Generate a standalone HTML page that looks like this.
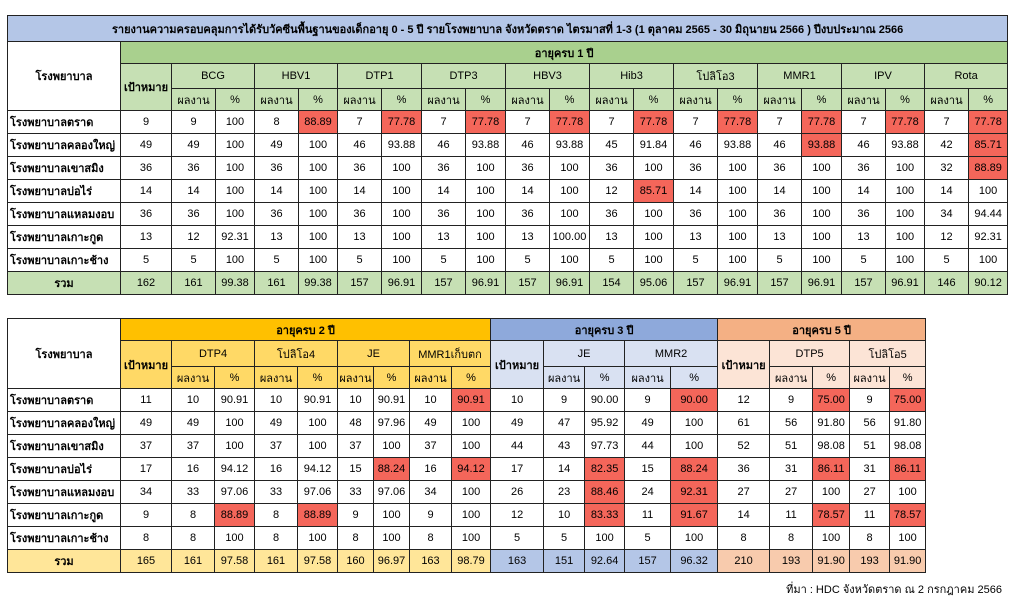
<!DOCTYPE html>
<html><head><meta charset="utf-8">
<style>
body{margin:0;background:#fff;width:1018px;height:602px;position:relative;overflow:hidden;font-family:"Liberation Sans","Noto Sans CJK SC",sans-serif;font-size:11px;color:#000}
table{position:absolute;border-collapse:collapse;table-layout:fixed}
td{border:1px solid #222;text-align:center;padding:0;white-space:nowrap;overflow:hidden}
td.h{text-align:left;padding-left:2px;font-weight:bold}
.b{font-weight:bold}
.r{background:#f4665a}
.g1{background:#a9d08e}.g2{background:#c6e0b4}
.t{background:#b4c6e7;font-weight:bold}
.y1{background:#ffc000}.y2{background:#ffd966}.y3{background:#ffe699}
.u1{background:#8ea9db}.u2{background:#d9e1f2}.u3{background:#b4c6e7}
.o1{background:#f4b084}.o2{background:#fce4d6}.o3{background:#f8cbad}
#t1 tr.d{height:23px}
#t2 tr.d{height:23px}
</style></head><body>
<table id="t1" style="left:7px;top:15px;width:1000px">
<colgroup><col style="width:113px"><col style="width:51px">
<col style="width:44px"><col style="width:39px"><col style="width:44px"><col style="width:39px"><col style="width:44px"><col style="width:40px"><col style="width:44px"><col style="width:40px"><col style="width:44px"><col style="width:40px"><col style="width:44px"><col style="width:40px"><col style="width:44px"><col style="width:40px"><col style="width:44px"><col style="width:40px"><col style="width:44px"><col style="width:39px"><col style="width:44px"><col style="width:39px"></colgroup>
<tr style="height:26px"><td colspan="22" class="t">รายงานความครอบคลุมการได้รับวัคซีนพื้นฐานของเด็กอายุ  0 - 5 ปี รายโรงพยาบาล จังหวัดตราด ไตรมาสที่ 1-3 (1 ตุลาคม 2565 - 30 มิถุนายน 2566 ) ปีงบประมาณ 2566</td></tr>
<tr style="height:22px"><td rowspan="3" class="b">โรงพยาบาล</td><td colspan="21" class="g1 b">อายุครบ 1 ปี</td></tr>
<tr style="height:25px"><td rowspan="2" class="g2 b">เป้าหมาย</td><td colspan="2" class="g2">BCG</td><td colspan="2" class="g2">HBV1</td><td colspan="2" class="g2">DTP1</td><td colspan="2" class="g2">DTP3</td><td colspan="2" class="g2">HBV3</td><td colspan="2" class="g2">Hib3</td><td colspan="2" class="g2">โปลิโอ3</td><td colspan="2" class="g2">MMR1</td><td colspan="2" class="g2">IPV</td><td colspan="2" class="g2">Rota</td></tr>
<tr style="height:22px" class="g2"><td>ผลงาน</td><td>%</td><td>ผลงาน</td><td>%</td><td>ผลงาน</td><td>%</td><td>ผลงาน</td><td>%</td><td>ผลงาน</td><td>%</td><td>ผลงาน</td><td>%</td><td>ผลงาน</td><td>%</td><td>ผลงาน</td><td>%</td><td>ผลงาน</td><td>%</td><td>ผลงาน</td><td>%</td></tr>
<tr class="d"><td class="h">โรงพยาบาลตราด</td><td>9</td><td>9</td><td>100</td><td>8</td><td class="r">88.89</td><td>7</td><td class="r">77.78</td><td>7</td><td class="r">77.78</td><td>7</td><td class="r">77.78</td><td>7</td><td class="r">77.78</td><td>7</td><td class="r">77.78</td><td>7</td><td class="r">77.78</td><td>7</td><td class="r">77.78</td><td>7</td><td class="r">77.78</td></tr>
<tr class="d"><td class="h">โรงพยาบาลคลองใหญ่</td><td>49</td><td>49</td><td>100</td><td>49</td><td>100</td><td>46</td><td>93.88</td><td>46</td><td>93.88</td><td>46</td><td>93.88</td><td>45</td><td>91.84</td><td>46</td><td>93.88</td><td>46</td><td class="r">93.88</td><td>46</td><td>93.88</td><td>42</td><td class="r">85.71</td></tr>
<tr class="d"><td class="h">โรงพยาบาลเขาสมิง</td><td>36</td><td>36</td><td>100</td><td>36</td><td>100</td><td>36</td><td>100</td><td>36</td><td>100</td><td>36</td><td>100</td><td>36</td><td>100</td><td>36</td><td>100</td><td>36</td><td>100</td><td>36</td><td>100</td><td>32</td><td class="r">88.89</td></tr>
<tr class="d"><td class="h">โรงพยาบาลบ่อไร่</td><td>14</td><td>14</td><td>100</td><td>14</td><td>100</td><td>14</td><td>100</td><td>14</td><td>100</td><td>14</td><td>100</td><td>12</td><td class="r">85.71</td><td>14</td><td>100</td><td>14</td><td>100</td><td>14</td><td>100</td><td>14</td><td>100</td></tr>
<tr class="d"><td class="h">โรงพยาบาลแหลมงอบ</td><td>36</td><td>36</td><td>100</td><td>36</td><td>100</td><td>36</td><td>100</td><td>36</td><td>100</td><td>36</td><td>100</td><td>36</td><td>100</td><td>36</td><td>100</td><td>36</td><td>100</td><td>36</td><td>100</td><td>34</td><td>94.44</td></tr>
<tr class="d"><td class="h">โรงพยาบาลเกาะกูด</td><td>13</td><td>12</td><td>92.31</td><td>13</td><td>100</td><td>13</td><td>100</td><td>13</td><td>100</td><td>13</td><td>100.00</td><td>13</td><td>100</td><td>13</td><td>100</td><td>13</td><td>100</td><td>13</td><td>100</td><td>12</td><td>92.31</td></tr>
<tr class="d"><td class="h">โรงพยาบาลเกาะช้าง</td><td>5</td><td>5</td><td>100</td><td>5</td><td>100</td><td>5</td><td>100</td><td>5</td><td>100</td><td>5</td><td>100</td><td>5</td><td>100</td><td>5</td><td>100</td><td>5</td><td>100</td><td>5</td><td>100</td><td>5</td><td>100</td></tr>
<tr class="d g2"><td class="b">รวม</td><td>162</td><td>161</td><td>99.38</td><td>161</td><td>99.38</td><td>157</td><td>96.91</td><td>157</td><td>96.91</td><td>157</td><td>96.91</td><td>154</td><td>95.06</td><td>157</td><td>96.91</td><td>157</td><td>96.91</td><td>157</td><td>96.91</td><td>146</td><td>90.12</td></tr>
</table>

<table id="t2" style="left:7px;top:318px;width:918px">
<colgroup><col style="width:113px"><col style="width:51px">
<col style="width:43px"><col style="width:40px"><col style="width:43px"><col style="width:40px"><col style="width:36px"><col style="width:36px"><col style="width:42px"><col style="width:39px">
<col style="width:53px"><col style="width:41px"><col style="width:40px"><col style="width:46px"><col style="width:47px">
<col style="width:52px"><col style="width:43px"><col style="width:37px"><col style="width:40px"><col style="width:36px"></colgroup>
<tr style="height:22px"><td rowspan="3" class="b">โรงพยาบาล</td><td colspan="9" class="y1 b">อายุครบ 2 ปี</td><td colspan="5" class="u1 b">อายุครบ 3 ปี</td><td colspan="5" class="o1 b">อายุครบ 5 ปี</td></tr>
<tr style="height:26px"><td rowspan="2" class="y2 b">เป้าหมาย</td><td colspan="2" class="y2">DTP4</td><td colspan="2" class="y2">โปลิโอ4</td><td colspan="2" class="y2">JE</td><td colspan="2" class="y2">MMR1เก็บตก</td><td rowspan="2" class="u2 b">เป้าหมาย</td><td colspan="2" class="u2">JE</td><td colspan="2" class="u2">MMR2</td><td rowspan="2" class="o2 b">เป้าหมาย</td><td colspan="2" class="o2">DTP5</td><td colspan="2" class="o2">โปลิโอ5</td></tr>
<tr style="height:22px"><td class="y2">ผลงาน</td><td class="y2">%</td><td class="y2">ผลงาน</td><td class="y2">%</td><td class="y2">ผลงาน</td><td class="y2">%</td><td class="y2">ผลงาน</td><td class="y2">%</td><td class="u2">ผลงาน</td><td class="u2">%</td><td class="u2">ผลงาน</td><td class="u2">%</td><td class="o2">ผลงาน</td><td class="o2">%</td><td class="o2">ผลงาน</td><td class="o2">%</td></tr>
<tr class="d"><td class="h">โรงพยาบาลตราด</td><td>11</td><td>10</td><td>90.91</td><td>10</td><td>90.91</td><td>10</td><td>90.91</td><td>10</td><td class="r">90.91</td><td>10</td><td>9</td><td>90.00</td><td>9</td><td class="r">90.00</td><td>12</td><td>9</td><td class="r">75.00</td><td>9</td><td class="r">75.00</td></tr>
<tr class="d"><td class="h">โรงพยาบาลคลองใหญ่</td><td>49</td><td>49</td><td>100</td><td>49</td><td>100</td><td>48</td><td>97.96</td><td>49</td><td>100</td><td>49</td><td>47</td><td>95.92</td><td>49</td><td>100</td><td>61</td><td>56</td><td>91.80</td><td>56</td><td>91.80</td></tr>
<tr class="d"><td class="h">โรงพยาบาลเขาสมิง</td><td>37</td><td>37</td><td>100</td><td>37</td><td>100</td><td>37</td><td>100</td><td>37</td><td>100</td><td>44</td><td>43</td><td>97.73</td><td>44</td><td>100</td><td>52</td><td>51</td><td>98.08</td><td>51</td><td>98.08</td></tr>
<tr class="d"><td class="h">โรงพยาบาลบ่อไร่</td><td>17</td><td>16</td><td>94.12</td><td>16</td><td>94.12</td><td>15</td><td class="r">88.24</td><td>16</td><td class="r">94.12</td><td>17</td><td>14</td><td class="r">82.35</td><td>15</td><td class="r">88.24</td><td>36</td><td>31</td><td class="r">86.11</td><td>31</td><td class="r">86.11</td></tr>
<tr class="d"><td class="h">โรงพยาบาลแหลมงอบ</td><td>34</td><td>33</td><td>97.06</td><td>33</td><td>97.06</td><td>33</td><td>97.06</td><td>34</td><td>100</td><td>26</td><td>23</td><td class="r">88.46</td><td>24</td><td class="r">92.31</td><td>27</td><td>27</td><td>100</td><td>27</td><td>100</td></tr>
<tr class="d"><td class="h">โรงพยาบาลเกาะกูด</td><td>9</td><td>8</td><td class="r">88.89</td><td>8</td><td class="r">88.89</td><td>9</td><td>100</td><td>9</td><td>100</td><td>12</td><td>10</td><td class="r">83.33</td><td>11</td><td class="r">91.67</td><td>14</td><td>11</td><td class="r">78.57</td><td>11</td><td class="r">78.57</td></tr>
<tr class="d"><td class="h">โรงพยาบาลเกาะช้าง</td><td>8</td><td>8</td><td>100</td><td>8</td><td>100</td><td>8</td><td>100</td><td>8</td><td>100</td><td>5</td><td>5</td><td>100</td><td>5</td><td>100</td><td>8</td><td>8</td><td>100</td><td>8</td><td>100</td></tr>
<tr class="d"><td class="y3 b">รวม</td><td class="y3">165</td><td class="y3">161</td><td class="y3">97.58</td><td class="y3">161</td><td class="y3">97.58</td><td class="y3">160</td><td class="y3">96.97</td><td class="y3">163</td><td class="y3">98.79</td><td class="u3">163</td><td class="u3">151</td><td class="u3">92.64</td><td class="u3">157</td><td class="u3">96.32</td><td class="o3">210</td><td class="o3">193</td><td class="o3">91.90</td><td class="o3">193</td><td class="o3">91.90</td></tr>
</table>
<div style="position:absolute;right:16px;top:580px;font-size:11px">ที่มา : HDC จังหวัดตราด ณ 2 กรกฎาคม  2566</div>
</body></html>
